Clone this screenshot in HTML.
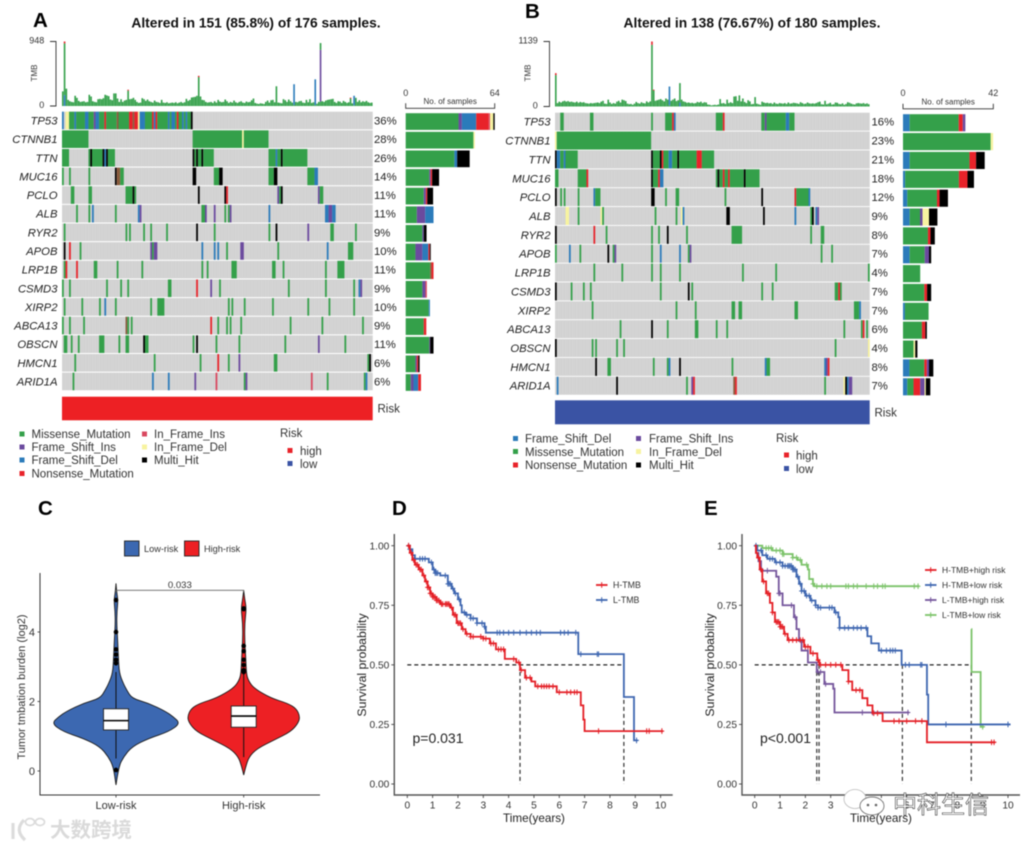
<!DOCTYPE html>
<html lang="en">
<head>
<meta charset="utf-8">
<title>Multi-panel mutation and survival figure</title>
<style>
html,body{margin:0;padding:0;background:#fff;width:1024px;height:848px;overflow:hidden}
svg{display:block;font-family:"Liberation Sans","Noto Sans CJK SC",sans-serif;filter:blur(.5px)}
.lg{font-size:11.5px;fill:#333}
.panel{font-size:20.5px;font-weight:bold;fill:#000}
.title{font-size:13.8px;font-weight:bold;fill:#111;text-anchor:middle}
.small{font-size:8px;fill:#333}
</style>
</head>
<body>
<svg id="figure" xmlns="http://www.w3.org/2000/svg" width="1024" height="848" viewBox="0 0 1024 848">
  <rect width="1024" height="848" fill="#fff"/>
  <text class="panel" x="33" y="27">A</text>
  <text class="panel" x="525" y="18">B</text>
  <text class="panel" x="38" y="515">C</text>
  <text class="panel" x="392" y="515">D</text>
  <text class="panel" x="704" y="515">E</text>
  <text class="title" x="256" y="27.5">Altered in 151 (85.8%) of 176 samples.</text>
  <text class="title" x="752" y="27.5">Altered in 138 (76.67%) of 180 samples.</text>

  <g id="panelA"></g>
  <g id="panelB"></g>

  <g>
    <rect x="19.5" y="431.5" width="5" height="5" fill="#34a04a"/><text class="lg" x="31.5" y="438">Missense_Mutation</text>
    <rect x="19.5" y="444.5" width="5" height="5" fill="#6b4a9e"/><text class="lg" x="31.5" y="451">Frame_Shift_Ins</text>
    <rect x="19.5" y="457.5" width="5" height="5" fill="#2b7bba"/><text class="lg" x="31.5" y="464">Frame_Shift_Del</text>
    <rect x="19.5" y="471" width="5" height="5" fill="#e8232a"/><text class="lg" x="31.5" y="477.5">Nonsense_Mutation</text>
    <rect x="142" y="431.5" width="5" height="5" fill="#d9485f"/><text class="lg" x="154" y="438">In_Frame_Ins</text>
    <rect x="142" y="444.5" width="5" height="5" fill="#f7f3a0"/><text class="lg" x="154" y="451">In_Frame_Del</text>
    <rect x="142" y="457.5" width="5" height="5" fill="#000"/><text class="lg" x="154" y="464">Multi_Hit</text>
    <text class="lg" x="280" y="437">Risk</text>
    <rect x="287.5" y="448" width="5" height="5" fill="#e8232a"/><text class="lg" x="300" y="455">high</text>
    <rect x="287.5" y="461" width="5" height="5" fill="#3a53a4"/><text class="lg" x="300" y="468">low</text>
  </g>
  <g>
    <rect x="513" y="436" width="5" height="5" fill="#2b7bba"/><text class="lg" x="525" y="442.5">Frame_Shift_Del</text>
    <rect x="513" y="449" width="5" height="5" fill="#34a04a"/><text class="lg" x="525" y="456">Missense_Mutation</text>
    <rect x="513" y="462.5" width="5" height="5" fill="#e8232a"/><text class="lg" x="525" y="469">Nonsense_Mutation</text>
    <rect x="636" y="436" width="5" height="5" fill="#6b4a9e"/><text class="lg" x="649" y="442.5">Frame_Shift_Ins</text>
    <rect x="636" y="449" width="5" height="5" fill="#f7f3a0"/><text class="lg" x="649" y="456">In_Frame_Del</text>
    <rect x="636" y="462.5" width="5" height="5" fill="#000"/><text class="lg" x="649" y="469">Multi_Hit</text>
    <text class="lg" x="776" y="442">Risk</text>
    <rect x="784" y="452.5" width="5" height="5" fill="#e8232a"/><text class="lg" x="796" y="459.5">high</text>
    <rect x="784" y="466" width="5" height="5" fill="#3a53a4"/><text class="lg" x="796" y="473">low</text>
  </g>

  <g id="panelC">
    <rect x="124.5" y="541" width="14.5" height="15" fill="#3c68b1" stroke="#222" stroke-width=".9"/>
    <text x="144" y="552" font-size="9.2" fill="#333">Low-risk</text>
    <rect x="184.5" y="541" width="14.5" height="15" fill="#ed2024" stroke="#222" stroke-width=".9"/>
    <text x="204" y="552" font-size="9.2" fill="#333">High-risk</text>
    <text transform="translate(25,687) rotate(-90)" text-anchor="middle" font-size="11" fill="#333">Tumor tmbation burden (log2)</text>
  </g>
  <g id="panelD">
    <text transform="translate(366,665) rotate(-90)" text-anchor="middle" font-size="12.3" fill="#222">Survival probability</text>
    <text x="534" y="822" text-anchor="middle" font-size="11.7" fill="#222">Time(years)</text>
    <text x="412.5" y="743" font-size="14" fill="#222">p=0.031</text>
  </g>
  <g id="panelE">
    <text transform="translate(714,665) rotate(-90)" text-anchor="middle" font-size="12.3" fill="#222">Survival probability</text>
    <text x="881" y="822" text-anchor="middle" font-size="11.7" fill="#222">Time(years)</text>
    <text x="760" y="743" font-size="14" fill="#222">p&lt;0.001</text>
  </g>

  <g>
    <path d="M13 823 L13 839 M24 820 Q14 830 25 840" fill="none" stroke="#dcdcdc" stroke-width="3.2"/>
    <ellipse cx="30" cy="822" rx="4.5" ry="3.5" fill="none" stroke="#dcdcdc" stroke-width="1.7"/>
    <ellipse cx="40" cy="822" rx="4.5" ry="3.5" fill="none" stroke="#dcdcdc" stroke-width="1.7"/>
    <text x="50" y="837" font-size="20.5" font-weight="bold" fill="#dadada">大数跨境</text>
  </g>
  <g>
    <ellipse cx="855" cy="799" rx="11" ry="9.5" fill="#fff" stroke="#bbb" stroke-width=".8"/>
    <ellipse cx="872" cy="806" rx="12" ry="9" fill="#fff" stroke="#777" stroke-width=".9"/>
    <circle cx="868" cy="805" r="1.3" fill="#666"/>
    <circle cx="876" cy="805" r="1.3" fill="#666"/>
    <text x="893" y="813" font-size="24" fill="#fff" stroke="#444" stroke-width=".6">中科生信</text>
  </g>
</svg>

<script>
/* ---------- mutation type colours ---------- */
const typeColors = {M:'#34a04a',I:'#6b4a9e',D:'#2b7bba',N:'#e8232a',P:'#d9485f',Y:'#f7f3a0',X:'#000000',B:'#8a5a3c'};

/* ---------- oncoplot A ---------- */
const genesA = ['TP53','CTNNB1','TTN','MUC16','PCLO','ALB','RYR2','APOB','LRP1B','CSMD3','XIRP2','ABCA13','OBSCN','HMCN1','ARID1A'];
const percentsA = ['36%','28%','26%','14%','11%','11%','9%','10%','11%','9%','10%','9%','11%','6%','6%'];
const sampleCountA = 176;
const tmbMaxA = 948;
const sideMaxA = 64;
const tmbBaseA = [
215,0,255,90,70,60,55,150,120,75,60,65,70,55,60,165,140,70,60,55,
100,105,100,115,165,155,145,95,85,185,185,110,60,100,60,80,90,225,100,105,
120,90,60,45,50,115,100,75,95,70,60,50,80,60,55,45,90,50,45,55,
40,45,50,45,55,40,50,60,45,55,105,75,90,125,130,135,150,425,140,90,
85,60,50,55,60,45,70,50,90,65,55,60,95,70,45,60,50,80,55,45,
60,70,50,45,65,55,60,85,110,45,35,30,40,35,30,60,80,50,85,90,
55,290,50,45,40,100,85,60,95,70,50,15,60,55,70,75,50,45,90,55,
100,45,55,12,35,60,65,70,60,80,90,95,100,105,60,45,70,65,45,75,
60,45,55,110,40,10,120,60,85,55,70,60,75,55,45,50];
const tmbStackA = [[1,'D',160],[1,'M',760],[1,'N',28],[37,'N',14],[77,'N',18],[131,'D',305],[143,'D',380],[146,'I',760],[146,'M',100],[163,'N',12],[165,'D',140]];

const mutA_TP53 = [[0,1,'D'],[2,2,'Y'],[4,3,'M'],[7,1,'D'],[8,5,'M'],[13,2,'D'],[15,3,'M'],[18,1,'I'],[19,2,'D'],[21,3,'M'],[24,1,'N'],[25,6,'M'],[31,1,'B'],[32,6,'M'],[38,2,'N'],[40,1,'B'],[41,2,'N'],[43,1,'Y'],[44,3,'D'],[47,4,'M'],[51,1,'N'],[52,1,'D'],[53,1,'N'],[54,6,'M'],[60,1,'D'],[61,1,'M'],[62,2,'D'],[64,1,'M'],[65,1,'N'],[66,2,'M'],[68,1,'D'],[69,1,'M'],[70,1,'D'],[71,2,'M'],[73,1,'X']];
const mutA_CTNNB1 = [[0,15,'M'],[74,28,'M'],[102,1,'Y'],[103,14,'M']];
const mutA_TTN = [[0,4,'M'],[15,1,'M'],[16,1,'X'],[17,6,'M'],[23,1,'X'],[24,1,'D'],[25,1,'X'],[26,4,'M'],[74,1,'X'],[75,1,'M'],[76,1,'X'],[77,2,'M'],[79,1,'X'],[80,6,'M'],[117,4,'M'],[121,1,'D'],[122,2,'M'],[124,1,'X'],[125,14,'M']];
const mutA_MUC16 = [[0,1,'M'],[4,1,'M'],[15,1,'M'],[30,1,'X'],[31,2,'B'],[33,2,'M'],[74,2,'X'],[86,3,'M'],[89,2,'X'],[117,3,'M'],[120,2,'X'],[139,4,'M'],[143,2,'D']];
const mutA_PCLO = [[5,2,'M'],[15,2,'M'],[36,4,'M'],[40,1,'X'],[41,1,'M'],[77,1,'X'],[92,1,'X'],[93,1,'N'],[122,1,'I'],[123,1,'M'],[124,1,'X'],[145,1,'I'],[146,2,'M']];
const mutA_ALB = [[8,1,'M'],[15,1,'M'],[17,1,'D'],[30,1,'M'],[43,1,'D'],[44,1,'I'],[79,2,'M'],[81,1,'I'],[86,1,'I'],[92,1,'M'],[94,1,'M'],[95,1,'I'],[117,1,'D'],[149,2,'D'],[151,2,'I'],[153,2,'D']];
const mutA_RYR2 = [[1,1,'M'],[36,1,'M'],[38,1,'M'],[46,1,'M'],[50,1,'M'],[59,1,'M'],[76,1,'X'],[86,1,'M'],[117,1,'M'],[121,1,'X'],[139,1,'I'],[152,2,'M'],[166,1,'M']];
const mutA_APOB = [[1,1,'X'],[4,1,'N'],[10,1,'M'],[50,1,'I'],[51,1,'M'],[52,2,'I'],[79,1,'D'],[86,1,'D'],[88,1,'D'],[93,1,'M'],[101,2,'I'],[122,1,'M'],[150,1,'D'],[162,3,'M']];
const mutA_LRP1B = [[1,1,'M'],[2,1,'N'],[8,1,'N'],[18,2,'M'],[31,1,'M'],[45,1,'M'],[79,1,'M'],[82,1,'M'],[96,3,'M'],[119,2,'M'],[125,1,'M'],[149,1,'M'],[156,4,'M']];
const mutA_CSMD3 = [[0,1,'M'],[4,1,'M'],[25,1,'M'],[33,1,'M'],[37,1,'M'],[60,2,'M'],[76,1,'N'],[84,1,'I'],[89,1,'M'],[128,1,'M'],[149,1,'M'],[165,1,'M'],[168,1,'D'],[169,1,'I']];
const mutA_XIRP2 = [[1,1,'M'],[11,1,'M'],[21,1,'M'],[24,1,'D'],[30,1,'M'],[50,1,'M'],[54,4,'M'],[94,1,'M'],[96,1,'M'],[103,1,'M'],[119,1,'M'],[139,1,'M'],[151,1,'M'],[165,1,'M']];
const mutA_ABCA13 = [[0,1,'M'],[4,1,'M'],[12,1,'M'],[36,1,'B'],[37,1,'M'],[39,1,'M'],[84,1,'N'],[88,1,'M'],[93,1,'M'],[95,1,'M'],[101,1,'M'],[129,1,'M'],[147,1,'M'],[170,1,'M']];
const mutA_OBSCN = [[1,2,'M'],[5,1,'M'],[9,1,'M'],[21,3,'M'],[32,1,'M'],[36,2,'M'],[46,1,'X'],[47,2,'M'],[74,1,'M'],[76,1,'X'],[87,1,'M'],[100,1,'M'],[126,1,'M'],[145,1,'I'],[160,1,'M']];
const mutA_HMCN1 = [[7,1,'M'],[52,1,'M'],[78,1,'M'],[88,1,'N'],[94,1,'M'],[100,1,'I'],[120,2,'M'],[173,1,'M'],[174,1,'X']];
const mutA_ARID1A = [[6,1,'M'],[51,1,'D'],[60,1,'D'],[75,1,'I'],[87,1,'P'],[103,1,'M'],[104,1,'I'],[141,1,'P'],[150,1,'M'],[171,1,'M'],[172,1,'D']];
const mutationsA = [mutA_TP53,mutA_CTNNB1,mutA_TTN,mutA_MUC16,mutA_PCLO,mutA_ALB,mutA_RYR2,mutA_APOB,mutA_LRP1B,mutA_CSMD3,mutA_XIRP2,mutA_ABCA13,mutA_OBSCN,mutA_HMCN1,mutA_ARID1A];
const sideCountsA = [
[['M',38],['I',2.4],['D',10.3],['N',9],['P',1],['Y',2.3],['X',1]],
[['M',48.7],['Y',1]],
[['M',35],['D',2],['X',9]],
[['M',17],['I',1],['N',1],['X',5]],
[['M',13],['I',1.5],['N',1],['X',4.2]],
[['M',8],['I',6],['D',6]],
[['M',12],['I',1],['X',2]],
[['M',7],['I',5],['D',4.3],['N',1],['X',.7]],
[['M',17.6],['B',1],['N',1.4]],
[['M',12],['I',2.2],['P',1]],
[['M',16.6],['D',.8]],
[['M',13],['N',1.8]],
[['M',17],['I',.6],['X',2.4]],
[['M',7],['I',1],['N',1],['X',1]],
[['M',3.6],['I',2],['D',3.4],['N',2]]];

/* ---------- oncoplot B ---------- */
const genesB = ['TP53','CTNNB1','TTN','MUC16','PCLO','ALB','RYR2','APOB','LRP1B','CSMD3','XIRP2','ABCA13','OBSCN','HMCN1','ARID1A'];
const percentsB = ['16%','23%','21%','18%','12%','9%','8%','7%','4%','7%','7%','6%','4%','8%','7%'];
const sampleCountB = 180;
const tmbMaxB = 1139;
const sideMaxB = 42;
const tmbBaseB = [
550,60,85,70,90,100,85,95,80,85,75,70,85,65,80,70,75,60,55,50,
60,55,60,65,70,60,85,100,50,45,120,70,45,60,50,85,100,70,120,110,
95,50,40,45,30,50,80,60,50,75,60,55,90,70,90,1080,280,100,110,120,
130,110,90,140,120,20,100,120,140,95,110,0,120,90,80,65,70,60,65,55,
60,80,70,85,60,75,70,35,30,20,25,30,25,35,130,55,60,45,120,60,
75,60,175,180,100,195,90,140,80,60,110,90,40,45,165,50,40,30,85,70,
60,65,55,60,45,70,50,45,60,55,50,60,45,70,50,55,65,60,55,45,
75,60,45,50,70,55,50,55,50,60,75,85,40,35,100,40,50,65,35,40,
70,65,45,40,55,30,45,75,65,50,40,35,55,60,55,50,60,45,55,40];
const tmbStackB = [[0,'N',34],[55,'N',59],[56,'N',15],[65,'D',330],[71,'D',70],[71,'M',340]];

const mutB_TP53 = [[3,2,'M'],[20,2,'M'],[55,1,'M'],[63,4,'M'],[67,1,'N'],[68,1,'D'],[92,4,'M'],[96,1,'N'],[118,2,'M'],[120,1,'I'],[121,11,'M'],[132,2,'D'],[134,3,'M']];
const mutB_CTNNB1 = [[0,1,'Y'],[1,54,'M']];
const mutB_TTN = [[0,1,'X'],[1,2,'D'],[3,2,'M'],[5,1,'D'],[6,7,'M'],[55,1,'X'],[56,4,'M'],[60,1,'X'],[61,1,'N'],[62,3,'M'],[65,2,'D'],[67,3,'M'],[70,1,'X'],[71,10,'M'],[81,3,'N'],[84,7,'M']];
const mutB_MUC16 = [[0,2,'M'],[13,5,'M'],[18,1,'N'],[55,1,'X'],[56,3,'M'],[59,1,'N'],[60,2,'D'],[92,1,'M'],[93,1,'X'],[94,2,'M'],[96,1,'N'],[97,2,'M'],[99,1,'N'],[100,8,'M'],[108,1,'X'],[109,8,'M']];
const mutB_PCLO = [[0,1,'X'],[3,1,'M'],[5,1,'M'],[13,1,'M'],[22,1,'D'],[23,3,'M'],[55,2,'X'],[63,1,'M'],[69,2,'M'],[97,1,'M'],[118,1,'X'],[137,1,'N'],[138,7,'M'],[145,1,'D']];
const mutB_ALB = [[6,2,'Y'],[13,1,'M'],[26,1,'Y'],[27,1,'M'],[57,1,'M'],[69,1,'M'],[72,1,'Y'],[73,1,'D'],[98,2,'X'],[119,1,'X'],[137,1,'D'],[146,1,'M'],[147,1,'X'],[149,1,'D'],[150,1,'I']];
const mutB_RYR2 = [[0,1,'X'],[22,1,'N'],[29,1,'M'],[55,1,'M'],[59,1,'M'],[64,1,'X'],[75,1,'M'],[101,6,'M'],[146,1,'M'],[152,2,'M']];
const mutB_APOB = [[0,1,'M'],[8,1,'D'],[14,1,'M'],[30,1,'X'],[33,1,'M'],[34,1,'I'],[55,1,'M'],[60,1,'D'],[71,1,'D'],[76,1,'M'],[77,1,'I'],[152,1,'M'],[158,1,'M']];
const mutB_LRP1B = [[22,1,'M'],[38,1,'M'],[55,1,'M'],[60,1,'M'],[71,1,'M'],[107,1,'M'],[126,1,'M'],[179,1,'M']];
const mutB_CSMD3 = [[0,1,'X'],[9,1,'M'],[16,1,'M'],[20,1,'M'],[60,1,'M'],[76,1,'X'],[78,1,'M'],[118,1,'M'],[124,1,'M'],[160,2,'M'],[162,1,'N'],[163,1,'M']];
const mutB_XIRP2 = [[21,1,'M'],[69,1,'M'],[80,1,'M'],[101,2,'M'],[105,2,'M'],[137,2,'M'],[171,3,'M'],[174,1,'D']];
const mutB_ABCA13 = [[37,1,'M'],[55,1,'X'],[64,1,'M'],[80,2,'M'],[92,1,'M'],[98,1,'M'],[165,1,'M'],[175,1,'M'],[176,1,'N'],[178,1,'M']];
const mutB_OBSCN = [[0,1,'X'],[21,1,'M'],[23,1,'M'],[35,1,'M'],[39,1,'M'],[160,1,'M'],[179,1,'Y']];
const mutB_HMCN1 = [[23,1,'X'],[30,2,'M'],[56,1,'M'],[64,1,'M'],[65,1,'D'],[71,1,'X'],[101,1,'M'],[120,1,'D'],[121,2,'M'],[154,1,'D'],[155,1,'I'],[156,1,'N']];
const mutB_ARID1A = [[1,1,'D'],[35,1,'X'],[75,1,'M'],[78,1,'I'],[79,1,'N'],[102,1,'B'],[103,1,'N'],[154,1,'M'],[165,1,'Y'],[166,1,'X'],[167,1,'D'],[168,2,'I']];
const mutationsB = [mutB_TP53,mutB_CTNNB1,mutB_TTN,mutB_MUC16,mutB_PCLO,mutB_ALB,mutB_RYR2,mutB_APOB,mutB_LRP1B,mutB_CSMD3,mutB_XIRP2,mutB_ABCA13,mutB_OBSCN,mutB_HMCN1,mutB_ARID1A];
const sideCountsB = [
[['D',3.1],['M',22.8],['N',1.9],['I',1.2]],
[['M',40.8],['Y',1.1]],
[['D',3.1],['M',27.8],['N',3.1],['X',4]],
[['D',1],['M',25],['N',4],['X',3]],
[['D',2],['M',13.8],['N',1.2],['X',3.9]],
[['D',3.1],['M',4.8],['I',1.2],['Y',3],['X',3.9]],
[['M',11.6],['N',1.2],['X',2]],
[['D',3.1],['M',7],['I',2],['X',1]],
[['M',8]],
[['M',9.9],['N',1.3],['X',1.9]],
[['D',.9],['M',11]],
[['M',8.8],['N',1.6],['X',.7]],
[['M',4.9],['Y',.8],['X',1]],
[['D',3],['M',6.9],['N',1.2],['I',1],['X',2]],
[['D',2],['M',2.9],['N',3.1],['I',2],['Y',.6],['X',2.1]]];

/* ---------- violin plot C ---------- */
const violinTicks = [0,2,4];
const violinCategories = ['Low-risk','High-risk'];
const lowRiskValues = [5.4,5.15,4.92,4.6,4.25,3.77,3.29,2.81,2.52,2.33,2.09,1.95,1.72,1.56,1.37,1.13,.94,.7,.41,.125,-.4];
const lowRiskDensity = [0,2,6,3,2,5,7,10,22,32,48,98,148,172,193,158,98,48,23,8,0];
const highRiskValues = [5.2,4.95,4.68,4.25,3.77,3.29,2.81,2.6,2.38,2.1,1.95,1.8,1.56,1.37,1.13,.89,.65,.41,.125,-.115];
const highRiskDensity = [0,3,8,3,3,6,8,14,31,81,131,158,169,163,141,91,41,16,6,0];
const lowRiskBox = [0.36,1.18,1.45,1.79,2.85];
const highRiskBox = [0.4,1.26,1.58,1.87,2.8];
const lowRiskOutliers = [4.92,4.0,3.5,3.35,3.2,3.1,0.03];
const highRiskOutliers = [4.68,4.66,3.6,3.45,3.2,3.05,2.9,2.85];
const pValueLabel = '0.033';
const pValueBracket = 5.2;

/* ---------- survival plots ---------- */
const survivalYTicks = [0,0.25,0.5,0.75,1];
const survivalXTicks = [0,1,2,3,4,5,6,7,8,9,10];

const dLowTime = [0,.1,.2,.3,.85,1,1.1,1.3,1.6,1.75,1.85,2,2.1,2.15,2.3,2.5,2.75,3.05,3.1,6.75,8.55,8.95];
const dLowSurv = [1,.985,.96,.945,.93,.9,.885,.875,.84,.82,.8,.775,.75,.72,.71,.695,.675,.66,.635,.545,.365,.183];
const dLowEnd = 9.1;
const dLowCensor = [.05,.1,.5,.6,.7,.95,1.05,1.1,1.15,1.2,1.5,1.6,1.65,1.7,1.8,1.9,2.05,2.25,2.35,2.5,2.6,2.75,2.95,3.05,3.55,3.65,3.8,4,4.2,4.45,4.7,4.9,5.1,5.25,6.05,6.2,6.35,6.65,6.85,7.5,7.55,9.05];
const dHighTime = [0,.1,.2,.3,.45,.6,.7,.8,.9,1,1.15,1.3,1.7,1.8,1.95,2.15,2.3,2.5,3,3.26,3.5,3.85,4.3,4.45,4.65,4.9,5.05,5.9,6.85,6.95,7];
const dHighSurv = [1,.97,.94,.92,.9,.875,.85,.825,.8,.785,.77,.755,.74,.71,.675,.65,.63,.618,.61,.59,.565,.525,.51,.478,.446,.43,.41,.385,.33,.27,.222];
const dHighEnd = 10.1;
const dHighCensor = [.05,.15,.25,.35,.4,.5,.55,.65,.75,.8,.85,.9,.95,1,1.05,1.1,1.15,1.2,1.25,1.35,1.4,1.5,1.55,1.6,1.65,1.75,1.85,1.9,2,2.05,2.1,2.2,2.35,2.5,2.6,2.9,3,3.1,3.3,3.4,3.6,3.7,3.8,4.2,4.4,4.5,4.7,4.85,5.15,5.3,5.4,5.5,5.6,5.75,6,6.3,6.45,6.6,6.7,7.55,9.45,9.55,10.05];
const dMedians = [4.45,8.55];

const eRedTime = [0,.05,.1,.2,.3,.45,.6,.7,.8,1,1.16,1.3,1.95,2.2,2.47,2.55,3.46,3.7,3.85,4.25,4.45,4.65,5.05,6.8];
const eRedSurv = [1,.97,.95,.9,.85,.8,.76,.72,.68,.66,.63,.604,.576,.548,.52,.5,.478,.43,.394,.36,.33,.297,.264,.175];
const eRedEnd = 9.5;
const eRedCensor = [.15,.25,.35,.5,.55,.7,.85,.9,.95,1,1.05,1.1,1.2,1.35,1.5,1.65,1.8,1.9,2,2.1,2.3,2.5,2.6,2.8,3,3.2,3.4,3.7,4,4.15,4.7,4.85,5.5,5.7,6,6.35,6.6,9.35,9.45];
const eBlueTime = [0,.1,.3,.5,.8,1.1,1.5,1.65,1.75,1.85,2,2.2,2.4,2.5,3.15,3.3,3.35,4.45,4.6,4.9,5.8,6.8,6.85];
const eBlueSurv = [1,.98,.96,.945,.93,.915,.9,.87,.84,.81,.79,.77,.75,.74,.72,.7,.655,.62,.59,.56,.5,.375,.25];
const eBlueEnd = 10.1;
const eBlueCensor = [.05,.25,.45,.6,.7,.85,1,1.1,1.2,1.3,1.35,1.4,1.45,1.5,1.55,1.6,1.7,1.8,1.85,1.95,2.05,2.15,2.25,2.4,2.5,2.6,2.95,3.05,3.2,3.35,3.55,3.7,3.9,4.05,4.2,4.4,5,5.2,5.35,5.45,5.55,5.95,6.1,6.55,6.6,7.55,10];
const ePurpleTime = [0,.05,.15,.25,.85,.95,1.1,1.55,1.65,1.75,1.85,2.1,2.45,2.75,3.1,3.15];
const ePurpleSurv = [1,.97,.935,.895,.87,.8,.75,.7,.65,.6,.56,.51,.47,.42,.4,.3];
const ePurpleEnd = 6.1;
const ePurpleCensor = [.3,.5,.95,1,1.45,1.6,2.5,2.6,2.8,4.25,4.65,6.05];
const eGreenTime = [0,.3,.7,1.1,1.5,1.7,1.85,2.1,2.15,2.3,2.35];
const eGreenSurv = [1,.99,.98,.965,.95,.94,.92,.9,.86,.84,.83];
const eGreenEnd = 6.5;
const eGreenCensor = [.45,.55,.65,.85,1,1.1,1.15,1.5,1.65,1.8,2.05,2.3,2.45,2.65,2.85,3,3.6,3.7,3.9,4.05,4.4,4.7,4.85,5.05,5.15,6.3,6.45];
const eGreenTailTime = [8.55,8.56,8.92];
const eGreenTailSurv = [.65,.47,.24];
const eGreenTailEnd = 9.05;
const eGreenTailCensor = [9];
const eMedians = [2.45,2.54,5.83,8.55];

/* ---------- drawing helpers ---------- */
const NS = 'http://www.w3.org/2000/svg';
function node(tag, parent, geometry) {
  const n = document.createElementNS(NS, tag);
  for (const k in geometry) n.setAttribute(k, geometry[k]);
  parent.appendChild(n);
  return n;
}

function drawOncoplot(root, c) {
  const xStep = (c.x1 - c.x0) / c.samples;
  const sx = s => c.x0 + s * xStep;
  const rowY = r => c.rowTop + r * c.pitch;

  const defs = node('defs', root, {});
  const pat = node('pattern', defs, {id: c.id + 'grey', patternUnits: 'userSpaceOnUse', x: c.x0, y: 0, width: xStep, height: 10});
  node('rect', pat, {x: 0, y: 0, width: xStep, height: 10, fill: '#d0d0d0'});
  node('rect', pat, {x: 0, y: 0, width: .35, height: 10, fill: '#dfdfdf'});

  /* TMB axis */
  const tmbY = v => c.tmbBottom - v / c.tmbMax * (c.tmbBottom - c.tmbTop);
  const axis = node('path', root, {d: `M${c.tmbAxisX - 6} ${tmbY(c.tmbMax)}H${c.tmbAxisX}V${tmbY(0)}H${c.tmbAxisX - 6}`, fill: 'none', stroke: '#333', 'stroke-width': .9});
  
  
  [0, c.tmbMax].forEach(v => {
    const t = node('text', root, {x: c.tmbAxisX - 11.7, y: tmbY(v) + 2, 'text-anchor': 'end', 'font-size': 9, fill: '#333'});
    t.textContent = v;
    
    
  });
  const tmbLabel = node('text', root, {transform: `translate(${c.tmbAxisX - 19},73) rotate(-90)`, 'text-anchor': 'middle', 'font-size': 8, fill: '#333'});
  tmbLabel.textContent = 'TMB';
  
  

  /* TMB bars */
  c.tmb.forEach((base, s) => {
    let acc = 0;
    const layers = [['M', base]].concat(c.tmbStack.filter(e => e[0] === s).map(e => [e[1], e[2]]));
    layers.forEach(l => {
      if (l[1] <= 0) return;
      const bar = node('rect', root, {x: sx(s), y: tmbY(acc + l[1]), width: xStep - .15, height: tmbY(acc) - tmbY(acc + l[1]), fill: typeColors[l[0]]});
      
      
      acc += l[1];
    });
  });

  /* gene rows */
  c.genes.forEach((g, r) => {
    const bg = node('rect', root, {x: c.x0, y: rowY(r), width: c.x1 - c.x0, height: c.rowH, fill: `url(#${c.id}grey)`});
    
    
    c.mut[r].forEach(m => {
      const cell = node('rect', root, {x: sx(m[0]), y: rowY(r), width: m[1] * xStep, height: c.rowH, fill: typeColors[m[2]]});
      
      
    });
    const label = node('text', root, {x: c.x0 - 4.5, y: rowY(r) + c.rowH / 2 + 4, 'text-anchor': 'end', 'font-size': 11.3, 'font-style': 'italic', fill: '#222'});
    label.textContent = g;
    
    
    const pct = node('text', root, {x: c.pctX, y: rowY(r) + c.rowH / 2 + 4, 'font-size': 11.3, fill: '#222'});
    pct.textContent = c.pct[r];
    
    
    let acc = 0;
    const sideX = v => c.sideX0 + v / c.sideMax * (c.sideX1 - c.sideX0);
    c.side[r].forEach(seg => {
      const b = node('rect', root, {x: sideX(acc), y: rowY(r) + 1.5, width: sideX(acc + seg[1]) - sideX(acc), height: c.rowH - .9, fill: typeColors[seg[0]]});
      
      
      acc += seg[1];
    });
  });

  /* side axis */
  const sa = node('path', root, {d: `M${c.sideX0} ${c.sideAxisY - 5}V${c.sideAxisY}H${c.sideX1}V${c.sideAxisY - 5}`, fill: 'none', stroke: '#333', 'stroke-width': .9});
  
  
  [[0, c.sideX0], [c.sideMax, c.sideX1]].forEach(p => {
    const t = node('text', root, {x: p[1], y: 96, 'text-anchor': 'middle', 'font-size': 9, fill: '#333'});
    t.textContent = p[0];
    
    
  });
  const st = node('text', root, {x: (c.sideX0 + c.sideX1) / 2, y: c.sideAxisY - 4.4, 'text-anchor': 'middle', 'font-size': 8, fill: '#333'});
  st.textContent = 'No. of samples';
  
  

  /* risk strip */
  const strip = node('rect', root, {x: c.x0, y: c.riskY, width: c.x1 - c.x0, height: c.riskH, fill: c.riskColor});
  
  
  const rl = node('text', root, {x: c.x1 + 4.8, y: c.riskY + c.riskH / 2 + 4, 'font-size': 11.5, fill: '#333'});
  rl.textContent = 'Risk';
  
  
}

drawOncoplot(document.getElementById('panelA'), {
  id: 'a', samples: sampleCountA, x0: 62, x1: 372.7, rowTop: 111.7, pitch: 18.64, rowH: 17.6,
  tmbTop: 41.5, tmbBottom: 106, tmbMax: tmbMaxA, tmbAxisX: 56, tmb: tmbBaseA, tmbStack: tmbStackA,
  genes: genesA, pct: percentsA, mut: mutationsA, side: sideCountsA, pctX: 374,
  sideX0: 405.7, sideX1: 494.7, sideMax: sideMaxA, sideAxisY: 108.3,
  riskY: 396.7, riskH: 23.6, riskColor: '#ed2024'
});
drawOncoplot(document.getElementById('panelB'), {
  id: 'b', samples: sampleCountB, x0: 555, x1: 869.7, rowTop: 112.7, pitch: 18.86, rowH: 18,
  tmbTop: 41.5, tmbBottom: 106.5, tmbMax: tmbMaxB, tmbAxisX: 549.5, tmb: tmbBaseB, tmbStack: tmbStackB,
  genes: genesB, pct: percentsB, mut: mutationsB, side: sideCountsB, pctX: 871.5,
  sideX0: 903, sideX1: 993.3, sideMax: sideMaxB, sideAxisY: 108.8,
  riskY: 400.3, riskH: 24, riskColor: '#3a53a4'
});

/* ---------- violin ---------- */
(function () {
  const root = document.getElementById('panelC');
  const vy = v => 771 - v * 34.75;
  const catX = i => 116 + i * 127.7;
  const dw = d => d / 3;

  function smooth(pts) {
    let d = `M${pts[0][0]} ${pts[0][1]}`;
    for (let i = 1; i < pts.length - 1; i++) {
      const mx = (pts[i][0] + pts[i + 1][0]) / 2, my = (pts[i][1] + pts[i + 1][1]) / 2;
      d += `Q${pts[i][0]} ${pts[i][1]} ${mx} ${my}`;
    }
    const l = pts[pts.length - 1];
    return d + `L${l[0]} ${l[1]}`;
  }

  function violin(i, vals, dens, box, outs, color, name) {
    const cx = catX(i);
    const left = vals.map((v, k) => [cx - dw(dens[k]), vy(v)]);
    const right = vals.map((v, k) => [cx + dw(dens[k]), vy(v)]).reverse();
    const shape = node('path', root, {d: smooth(left) + smooth(right).replace(/^M/, 'L') + 'Z', fill: color, stroke: '#1a1a1a', 'stroke-width': .9});
    
    
    const whisker = node('line', root, {x1: cx, x2: cx, y1: vy(box[4]), y2: vy(box[0]), stroke: '#111', 'stroke-width': 1});
    
    
    const rect = node('rect', root, {x: cx - 12.5, y: vy(box[3]), width: 25, height: vy(box[1]) - vy(box[3]), fill: '#fff', stroke: '#222', 'stroke-width': .9});
    
    
    const med = node('line', root, {x1: cx - 12.5, x2: cx + 12.5, y1: vy(box[2]), y2: vy(box[2]), stroke: '#000', 'stroke-width': 1.6});
    
    
    outs.forEach(o => {
      const dot = node('circle', root, {cx: cx, cy: vy(o), r: 2.3, fill: '#000'});
      
      
    });
  }
  violin(0, lowRiskValues, lowRiskDensity, lowRiskBox, lowRiskOutliers, '#3c68b1', 'low-risk');
  violin(1, highRiskValues, highRiskDensity, highRiskBox, highRiskOutliers, '#ed2024', 'high-risk');

  const axis = node('path', root, {d: 'M40 573V795H320', fill: 'none', stroke: '#333', 'stroke-width': 1});
  
  
  violinTicks.forEach(v => {
    const tk = node('line', root, {x1: 37.5, x2: 40, y1: vy(v), y2: vy(v), stroke: '#333', 'stroke-width': .8});
    
    
    const t = node('text', root, {x: 35, y: vy(v) + 4, 'text-anchor': 'end', 'font-size': 11, fill: '#333'});
    t.textContent = v;
    
    
  });
  violinCategories.forEach((c, i) => {
    const tk = node('line', root, {x1: catX(i), x2: catX(i), y1: 795, y2: 797.5, stroke: '#333', 'stroke-width': .8});
    
    
    const t = node('text', root, {x: catX(i), y: 809, 'text-anchor': 'middle', 'font-size': 11, fill: '#333'});
    t.textContent = c;
    
    
  });
  const br = node('path', root, {d: `M${catX(0)} ${vy(pValueBracket) + 2}V${vy(pValueBracket)}H${catX(1)}V${vy(pValueBracket) + 2}`, fill: 'none', stroke: '#666', 'stroke-width': .8});
  
  
  const pv = node('text', root, {x: (catX(0) + catX(1)) / 2, y: vy(pValueBracket) - 2.5, 'text-anchor': 'middle', 'font-size': 9.6, fill: '#333'});
  pv.textContent = pValueLabel;
  
  
})();

/* ---------- survival ---------- */
function drawSurvival(root, c) {
  const sx = t => c.x0 + t * c.xPerYear;
  const sy = s => 784 - s * 238.3;

  const ax = node('path', root, {d: `M${c.axisX} 534V795H${c.axisRight}`, fill: 'none', stroke: '#555', 'stroke-width': 1.4});
  
  
  survivalYTicks.forEach(v => {
    const tk = node('line', root, {x1: c.axisX - 3, x2: c.axisX, y1: sy(v), y2: sy(v), stroke: '#444', 'stroke-width': .9});
    
    
    const t = node('text', root, {x: c.axisX - 5, y: sy(v) + 3.7, 'text-anchor': 'end', 'font-size': 10.2, fill: '#333'});
    t.textContent = v.toFixed(2);
    
    
  });
  survivalXTicks.forEach(v => {
    const tk = node('line', root, {x1: sx(v), x2: sx(v), y1: 795, y2: 798, stroke: '#444', 'stroke-width': .9});
    
    
    const t = node('text', root, {x: sx(v), y: 808.5, 'text-anchor': 'middle', 'font-size': 10.2, fill: '#333'});
    t.textContent = v;
    
    
  });

  const mid = node('line', root, {x1: sx(0), x2: sx(c.medians[c.medians.length - 1]), y1: sy(.5), y2: sy(.5), stroke: '#222', 'stroke-width': 1.2, 'stroke-dasharray': '4 3'});
  
  
  c.medians.forEach(m => {
    const v = node('line', root, {x1: sx(m), x2: sx(m), y1: sy(.5), y2: sy(0), stroke: '#333', 'stroke-width': 1.2, 'stroke-dasharray': '4 3'});
    
    
  });

  c.curves.forEach(k => {
    let d = `M${sx(k.time[0])} ${sy(k.surv[0])}`;
    for (let i = 1; i < k.time.length; i++) d += `H${sx(k.time[i])}V${sy(k.surv[i])}`;
    d += `H${sx(k.end)}`;
    const line = node('path', root, {d: d, fill: 'none', stroke: k.color, 'stroke-width': 1.8});
    
    
    k.censor.forEach(t => {
      let s = k.surv[0];
      k.time.forEach((tt, i) => { if (tt <= t) s = k.surv[i]; });
      const m = node('path', root, {d: `M${sx(t) - 2.4} ${sy(s)}h4.8M${sx(t)} ${sy(s) - 2.8}v5.6`, fill: 'none', stroke: k.color, 'stroke-width': 1});
      
      
    });
  });

  c.legend.forEach((l, i) => {
    const y = c.legendY + i * c.legendGap;
    const ln = node('line', root, {x1: c.legendX, x2: c.legendX + 11.5, y1: y, y2: y, stroke: l.color, 'stroke-width': 1.8});
    
    
    const pl = node('path', root, {d: `M${c.legendX + 5.7} ${y - 2.8}v5.6`, stroke: l.color, 'stroke-width': 1, fill: 'none'});
    
    
    const t = node('text', root, {x: c.legendX + 17, y: y + 3, 'font-size': c.legendFont, fill: '#333'});
    t.textContent = l.label;
    
    
  });
}

drawSurvival(document.getElementById('panelD'), {
  x0: 407.3, xPerYear: 25.33, axisX: 394.3, axisRight: 672.7, medians: dMedians,
  curves: [
    {name: 'l-tmb', color: '#3e66b0', time: dLowTime, surv: dLowSurv, end: dLowEnd, censor: dLowCensor},
    {name: 'h-tmb', color: '#e41f26', time: dHighTime, surv: dHighSurv, end: dHighEnd, censor: dHighCensor}
  ],
  legendX: 596, legendY: 585, legendGap: 15, legendFont: 8.8,
  legend: [{label: 'H-TMB', color: '#e41f26'}, {label: 'L-TMB', color: '#3e66b0'}]
});
drawSurvival(document.getElementById('panelE'), {
  x0: 754.7, xPerYear: 25.33, axisX: 742, axisRight: 1020, medians: eMedians,
  curves: [
    {name: 'l-tmb-low-risk', color: '#7cc36a', time: eGreenTime, surv: eGreenSurv, end: eGreenEnd, censor: eGreenCensor},
    {name: 'l-tmb-low-risk-tail', color: '#7cc36a', time: eGreenTailTime, surv: eGreenTailSurv, end: eGreenTailEnd, censor: eGreenTailCensor},
    {name: 'h-tmb-low-risk', color: '#3e66b0', time: eBlueTime, surv: eBlueSurv, end: eBlueEnd, censor: eBlueCensor},
    {name: 'l-tmb-high-risk', color: '#75569c', time: ePurpleTime, surv: ePurpleSurv, end: ePurpleEnd, censor: ePurpleCensor},
    {name: 'h-tmb-high-risk', color: '#e41f26', time: eRedTime, surv: eRedSurv, end: eRedEnd, censor: eRedCensor}
  ],
  legendX: 925, legendY: 570, legendGap: 15, legendFont: 8.5,
  legend: [
    {label: 'H-TMB+high risk', color: '#e41f26'},
    {label: 'H-TMB+low risk', color: '#3e66b0'},
    {label: 'L-TMB+high risk', color: '#75569c'},
    {label: 'L-TMB+low risk', color: '#7cc36a'}
  ]
});
</script>
</body>
</html>
